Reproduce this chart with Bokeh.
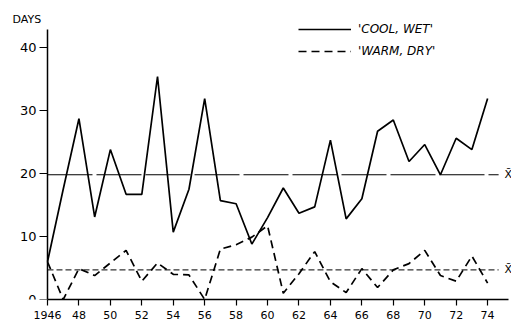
from bokeh.plotting import figure
from bokeh.models import (ColumnDataSource, FixedTicker, Legend, LegendItem,
                          Label, Range1d)
from bokeh.embed import file_html
from bokeh.resources import INLINE

YEARS = list(range(1946, 1975))
COOL_WET = [6, 17.5, 28.7, 13.1, 23.8, 16.7, 16.7, 35.4, 10.7, 17.5,
            31.9, 15.7, 15.2, 8.8, 13.0, 17.7, 13.7, 14.7, 25.3, 12.8,
            16.0, 26.7, 28.5, 21.9, 24.6, 19.8, 25.6, 23.8, 31.9]
WARM_DRY = [6, 0, 4.9, 3.8, 5.8, 7.8, 2.9, 5.8, 4.0, 3.9,
            0, 8.0, 8.7, 9.9, 11.7, 1.0, 4.1, 7.6, 2.8, 1.1,
            4.9, 1.9, 4.7, 5.7, 7.8, 3.8, 2.9, 6.9, 2.6]
MEAN_COOL_WET = 19.8
MEAN_WARM_DRY = 4.7
MEAN_LINE_END = 1974.7
X_TICKS = list(range(1946, 1975, 2))
X_TICK_LABELS = ["1946"] + [str(y % 100) for y in X_TICKS[1:]]
Y_TICKS = [0, 10, 20, 30, 40]
LABELS = ["'COOL, WET'", "'WARM, DRY'"]

FONT = "DejaVu Sans"

p = figure(width=511, height=322, output_backend="svg", toolbar_location=None,
           x_range=Range1d(1943.01, 1975.52), y_range=Range1d(0, 46.67),
           min_border_left=0, min_border_right=0, min_border_top=5,
           min_border_bottom=23)
p.outline_line_color = None
p.xgrid.visible = False
p.ygrid.visible = False
p.background_fill_color = "white"
p.border_fill_color = "white"

src = ColumnDataSource(dict(year=YEARS, cool=COOL_WET, warm=WARM_DRY))

# mean reference lines
p.line(x=[YEARS[0], MEAN_LINE_END], y=[MEAN_COOL_WET, MEAN_COOL_WET],
       line_color="black", line_width=1.1, line_dash="45 4")
p.line(x=[YEARS[0], MEAN_LINE_END], y=[MEAN_WARM_DRY, MEAN_WARM_DRY],
       line_color="black", line_width=1.0, line_dash="6 3")

r1 = p.line("year", "cool", source=src, line_color="black", line_width=1.7)
r2 = p.line("year", "warm", source=src, line_color="black", line_width=1.7,
            line_dash="8 5")

legend = Legend(items=[LegendItem(label=LABELS[0], renderers=[r1]),
                       LegendItem(label=LABELS[1], renderers=[r2])],
                location=(298, 238), orientation="vertical",
                glyph_width=53, glyph_height=20, spacing=2, padding=0, margin=0,
                label_standoff=7, label_height=20,
                label_text_font=FONT, label_text_font_style="italic",
                label_text_font_size="12px", label_text_color="black",
                border_line_color=None, background_fill_alpha=0)
p.add_layout(legend, "center")

# axes
for ax in (p.xaxis[0], p.yaxis[0]):
    ax.axis_line_color = "black"
    ax.axis_line_width = 1.5
    ax.major_tick_line_color = "black"
    ax.major_tick_line_width = 1.2
    ax.minor_tick_line_color = None
    ax.major_tick_in = 0
    ax.major_label_text_color = "black"
    ax.major_label_text_font = FONT

p.xaxis.ticker = FixedTicker(ticks=X_TICKS)
p.xaxis.major_label_overrides = {t: l for t, l in zip(X_TICKS, X_TICK_LABELS)}
p.xaxis.major_tick_out = 6
p.xaxis.major_label_standoff = 5
p.xaxis.major_label_text_font_size = "11px"
p.xaxis.bounds = (YEARS[0], 1975.3)

p.yaxis.ticker = FixedTicker(ticks=Y_TICKS)
p.yaxis.fixed_location = YEARS[0]
p.yaxis.bounds = (0, 42.86)
p.yaxis.major_tick_out = 8
p.yaxis.major_label_standoff = 3
p.yaxis.major_label_text_font_size = "13px"

# y-axis unit label
p.add_layout(Label(x=12, y=280, x_units="screen", y_units="screen",
                   text="DAYS", text_font=FONT, text_font_size="11px",
                   text_baseline="middle", text_color="black"))

# mean markers
for m in (MEAN_COOL_WET, MEAN_WARM_DRY):
    p.add_layout(Label(x=MEAN_LINE_END, y=m, x_offset=6, text="X\u0304",
                       text_font=FONT, text_font_size="11px",
                       text_baseline="middle", text_align="left",
                       text_color="black"))

open("out.html", "w").write(file_html(p, INLINE))
